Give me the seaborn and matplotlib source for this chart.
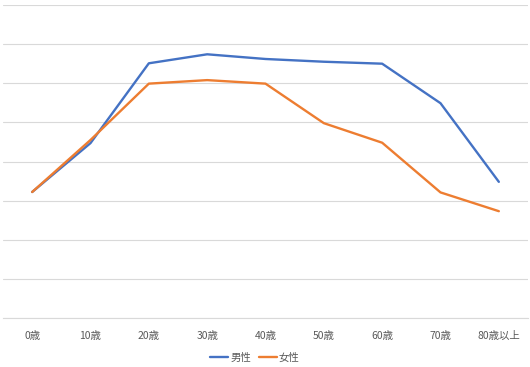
import matplotlib
matplotlib.use("Agg")
import matplotlib.pyplot as plt
import seaborn as sns
import pandas as pd

# age groups and series values (gridline units)
ages = ["0歳", "10歳", "20歳", "30歳", "40歳", "50歳", "60歳", "70歳", "80歳以上"]
male = [3.22, 4.47, 6.51, 6.74, 6.62, 6.55, 6.50, 5.49, 3.48]
female = [3.22, 4.55, 5.99, 6.08, 5.99, 4.98, 4.48, 3.21, 2.73]
series_names = ["男性", "女性"]

df = pd.DataFrame({
    "age": ages * 2,
    "value": male + female,
    "sex": [series_names[0]] * len(ages) + [series_names[1]] * len(ages),
})

sns.set_theme(style="white")
plt.rcParams["font.family"] = ["Noto Sans CJK JP", "DejaVu Sans"]

fig = plt.figure(figsize=(5.3, 3.67), dpi=100)
ax = fig.add_axes([3 / 530, 1 - 318 / 367, 525 / 530, 313 / 367])

sns.lineplot(data=df, x="age", y="value", hue="sex", sort=False,
             palette=["#4472C4", "#ED7D31"], linewidth=1.7, ax=ax)

ax.set_xlim(-0.5, len(ages) - 0.5)
ax.set_ylim(0, 8)
ax.set_yticks(range(0, 9))
ax.yaxis.grid(True, color="#D9D9D9", linewidth=0.8)
ax.tick_params(axis="y", left=False, labelleft=False)
ax.tick_params(axis="x", bottom=False, labelsize=7.5, labelcolor="#595959", pad=3.5)
for s in ["top", "right", "left"]:
    ax.spines[s].set_visible(False)
ax.spines["bottom"].set_color("#D9D9D9")
ax.spines["bottom"].set_linewidth(0.8)
ax.set_xlabel("")
ax.set_ylabel("")

handles, labels = ax.get_legend_handles_labels()
ax.legend(handles, labels, loc="center", bbox_to_anchor=(255 / 530, 1 - 358 / 367),
          bbox_transform=fig.transFigure, ncol=2, frameon=False, fontsize=7.5,
          labelcolor="#595959", handlelength=1.7, handletextpad=0.2, columnspacing=0.8)

fig.savefig("out.png", dpi=100)
